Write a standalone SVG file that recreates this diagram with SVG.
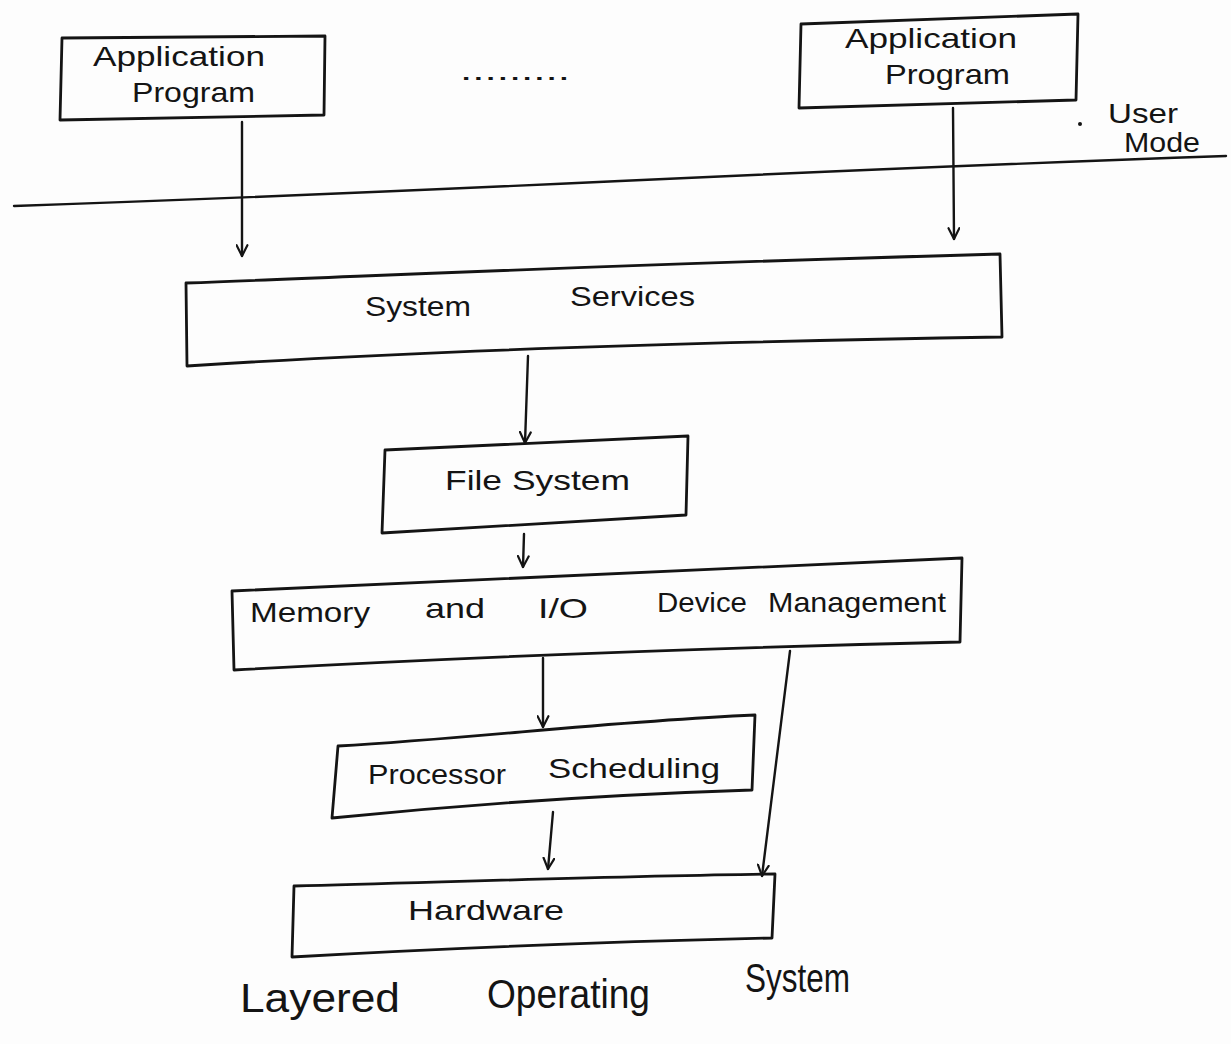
<svg xmlns="http://www.w3.org/2000/svg" width="1231" height="1044" viewBox="0 0 1231 1044">
  <style>
    .box { fill: none; stroke: #141414; stroke-width: 2.8; stroke-linejoin: round; }
    .wire { fill: none; stroke: #141414; stroke-width: 2.4; stroke-linecap: round; }
    .lbl { font-family: "Liberation Sans", "DejaVu Sans", sans-serif; fill: #141414; font-size: 28px; }
    .cap { font-family: "Liberation Sans", "DejaVu Sans", sans-serif; fill: #141414; font-size: 40px; }
  </style>
  <defs>
    <marker id="head" viewBox="0 0 12 12" refX="11" refY="6" markerWidth="13" markerHeight="13" markerUnits="userSpaceOnUse" orient="auto">
      <polyline points="1,1 11,6 1,11" fill="none" stroke="#141414" stroke-width="2" stroke-linecap="round" stroke-linejoin="round"/>
    </marker>
  </defs>
  <rect width="1231" height="1044" fill="#fdfdfd"/>

  <!-- user / kernel mode boundary -->
  <path class="wire" d="M14,206 Q300,196 620,181 T1226,156" stroke-width="2.8"/>
  <circle cx="1080" cy="124" r="2" fill="#141414"/>

  <!-- user mode programs -->
  <g id="app-left">
    <path class="box" d="M62,38 L325,36 L324,115 L60,120 Z"/>
    <text class="lbl" x="93" y="66" textLength="172" lengthAdjust="spacingAndGlyphs">Application</text>
    <text class="lbl" x="132" y="102" textLength="123" lengthAdjust="spacingAndGlyphs">Program</text>
  </g>
  <g id="ellipsis">
    <text class="lbl" x="460" y="80" font-size="18" textLength="110" lengthAdjust="spacingAndGlyphs">.........</text>
  </g>
  <g id="app-right">
    <path class="box" d="M801,24 L1078,14 L1076,100 L799,108 Z"/>
    <text class="lbl" x="845" y="48" textLength="172" lengthAdjust="spacingAndGlyphs">Application</text>
    <text class="lbl" x="885" y="84" textLength="125" lengthAdjust="spacingAndGlyphs">Program</text>
  </g>
  <g id="user-mode">
    <text class="lbl" x="1108" y="123" font-size="24" textLength="70" lengthAdjust="spacingAndGlyphs">User</text>
    <text class="lbl" x="1124" y="152" font-size="24" textLength="76" lengthAdjust="spacingAndGlyphs">Mode</text>
  </g>

  <!-- kernel layers -->
  <g id="system-services">
    <path class="box" d="M186,283 C400,275 600,265 1000,254 L1002,337 C700,342 400,352 187,366 Z"/>
    <text class="lbl" x="365" y="316" textLength="106" lengthAdjust="spacingAndGlyphs">System</text>
    <text class="lbl" x="570" y="306" textLength="125" lengthAdjust="spacingAndGlyphs">Services</text>
  </g>
  <g id="file-system">
    <path class="box" d="M385,450 L688,436 L686,515 L382,533 Z"/>
    <text class="lbl" x="445" y="490" textLength="185" lengthAdjust="spacingAndGlyphs">File  System</text>
  </g>
  <g id="memory-io">
    <path class="box" d="M232,591 C500,580 750,566 962,558 L960,642 C700,648 450,658 234,670 Z"/>
    <text class="lbl" x="250" y="622" textLength="120" lengthAdjust="spacingAndGlyphs">Memory</text>
    <text class="lbl" x="425" y="618" textLength="60" lengthAdjust="spacingAndGlyphs">and</text>
    <text class="lbl" x="538" y="618" textLength="50" lengthAdjust="spacingAndGlyphs">I/O</text>
    <text class="lbl" x="657" y="612" textLength="90" lengthAdjust="spacingAndGlyphs">Device</text>
    <text class="lbl" x="768" y="612" textLength="178" lengthAdjust="spacingAndGlyphs">Management</text>
  </g>
  <g id="processor-scheduling">
    <path class="box" d="M338,746 C480,738 600,722 755,715 L752,790 C600,795 450,806 332,818 Z"/>
    <text class="lbl" x="368" y="784" textLength="138" lengthAdjust="spacingAndGlyphs">Processor</text>
    <text class="lbl" x="548" y="778" textLength="172" lengthAdjust="spacingAndGlyphs">Scheduling</text>
  </g>
  <g id="hardware">
    <path class="box" d="M294,886 C450,882 620,876 775,874 L772,938 C600,942 450,948 292,957 Z"/>
    <text class="lbl" x="408" y="920" textLength="156" lengthAdjust="spacingAndGlyphs">Hardware</text>
  </g>

  <!-- connectors -->
  <g id="connectors">
    <line class="wire" x1="242" y1="122" x2="242" y2="256" marker-end="url(#head)"/>
    <line class="wire" x1="953" y1="108" x2="954" y2="239" marker-end="url(#head)"/>
    <line class="wire" x1="528" y1="356" x2="525" y2="443" marker-end="url(#head)"/>
    <line class="wire" x1="524" y1="534" x2="523" y2="567" marker-end="url(#head)"/>
    <line class="wire" x1="543" y1="658" x2="543" y2="727" marker-end="url(#head)"/>
    <line class="wire" x1="553" y1="812" x2="548" y2="869" marker-end="url(#head)"/>
    <line class="wire" x1="790" y1="651" x2="762" y2="876" marker-end="url(#head)"/>
  </g>

  <!-- caption -->
  <g id="caption">
    <text class="cap" x="240" y="1012" textLength="160" lengthAdjust="spacingAndGlyphs">Layered</text>
    <text class="cap" x="487" y="1008" textLength="163" lengthAdjust="spacingAndGlyphs">Operating</text>
    <text class="cap" x="745" y="992" font-size="32" textLength="105" lengthAdjust="spacingAndGlyphs">System</text>
  </g>
</svg>
